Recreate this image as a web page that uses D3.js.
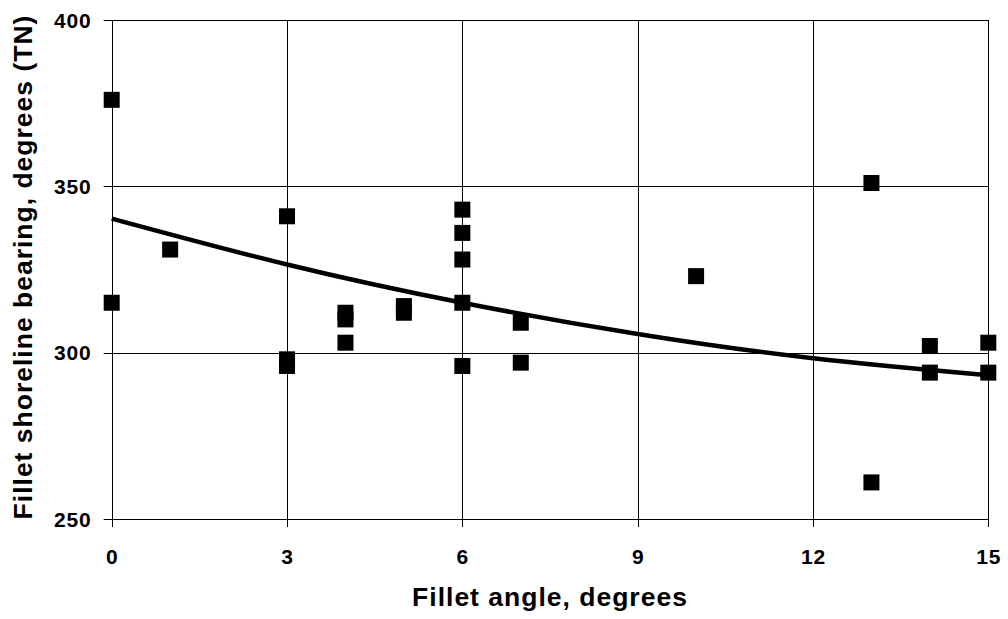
<!DOCTYPE html>
<html>
<head>
<meta charset="utf-8">
<script src="https://cdn.jsdelivr.net/npm/d3@7"></script>
<style>
body { margin: 0; background: #fff; }
text { font-family: "Liberation Sans", Arial, sans-serif; font-weight: bold; }
</style>
</head>
<body>
<script>
// fillet angle (deg) vs shoreline bearing (deg TN)
var angles   = [0, 0, 1, 3, 3, 3, 4, 4, 4, 5, 5, 6, 6, 6, 6, 6, 7, 7, 10, 13, 13, 14, 14, 15, 15];
var bearings = [376, 315, 331, 341, 298, 296, 312, 310, 303, 314, 312, 343, 336, 328, 315, 296, 309, 297, 323, 351, 261, 302, 294, 303, 294];
// trendline
var trendX = [0, 3, 6, 9, 12, 15];
var trendY = [340.3, 326.5, 315, 305.6, 298.3, 293.2];
var xTicks = [0, 3, 6, 9, 12, 15];
var yTicks = [250, 300, 350, 400];

var width = 1008;
var height = 619;

var svg = d3.select("body").append("svg")
	.attr("width", width)
	.attr("height", height);

var x = d3.scaleLinear().domain([0, 15]).range([111.7, 988.3]);
var y = d3.scaleLinear().domain([250, 400]).range([519, 20]);

// grid
svg.selectAll("line.vgrid")
	.data(xTicks)
	.enter()
	.append("line")
	.attr("x1", function(d) { return Math.round(x(d)) + 0.5; })
	.attr("x2", function(d) { return Math.round(x(d)) + 0.5; })
	.attr("y1", y(400))
	.attr("y2", y(250) + 8)
	.attr("stroke", "#000")
	.attr("stroke-width", 1);

svg.selectAll("line.hgrid")
	.data(yTicks)
	.enter()
	.append("line")
	.attr("x1", x(0) - 8)
	.attr("x2", x(15))
	.attr("y1", function(d) { return Math.round(y(d)) + 0.5; })
	.attr("y2", function(d) { return Math.round(y(d)) + 0.5; })
	.attr("stroke", "#000")
	.attr("stroke-width", 1);

// tick labels
svg.selectAll("text.xt")
	.data(xTicks)
	.enter()
	.append("text")
	.text(function(d) { return d; })
	.attr("x", function(d) { return x(d) + 0.5; })
	.attr("y", 564)
	.attr("text-anchor", "middle")
	.attr("letter-spacing", "0.8px")
	.attr("font-size", "21px");

svg.selectAll("text.yt")
	.data(yTicks)
	.enter()
	.append("text")
	.text(function(d) { return d; })
	.attr("x", 91.5)
	.attr("y", function(d) { return y(d) + 7.5; })
	.attr("text-anchor", "end")
	.attr("letter-spacing", "0.8px")
	.attr("font-size", "21px");

// trendline
svg.append("path")
	.datum(d3.zip(trendX, trendY))
	.attr("fill", "none")
	.attr("stroke", "#000")
	.attr("stroke-width", 4.5)
	.attr("d", d3.line()
		.x(function(d) { return x(d[0]); })
		.y(function(d) { return y(d[1]); })
		.curve(d3.curveNatural));

// points
svg.selectAll("rect.pt")
	.data(angles)
	.enter()
	.append("rect")
	.attr("x", function(d) { return x(d) - 8; })
	.attr("y", function(d, i) { return y(bearings[i]) - 8; })
	.attr("width", 16)
	.attr("height", 16)
	.attr("fill", "#000");

// axis titles
svg.append("text")
	.text("Fillet angle, degrees")
	.attr("x", x(7.5))
	.attr("y", 606)
	.attr("text-anchor", "middle")
	.attr("letter-spacing", "1px")
	.attr("font-size", "26.5px");

svg.append("text")
	.text("Fillet shoreline bearing, degrees (TN)")
	.attr("transform", "translate(32,267) rotate(-90)")
	.attr("text-anchor", "middle")
	.attr("letter-spacing", "1px")
	.attr("font-size", "26.5px");
</script>
</body>
</html>
